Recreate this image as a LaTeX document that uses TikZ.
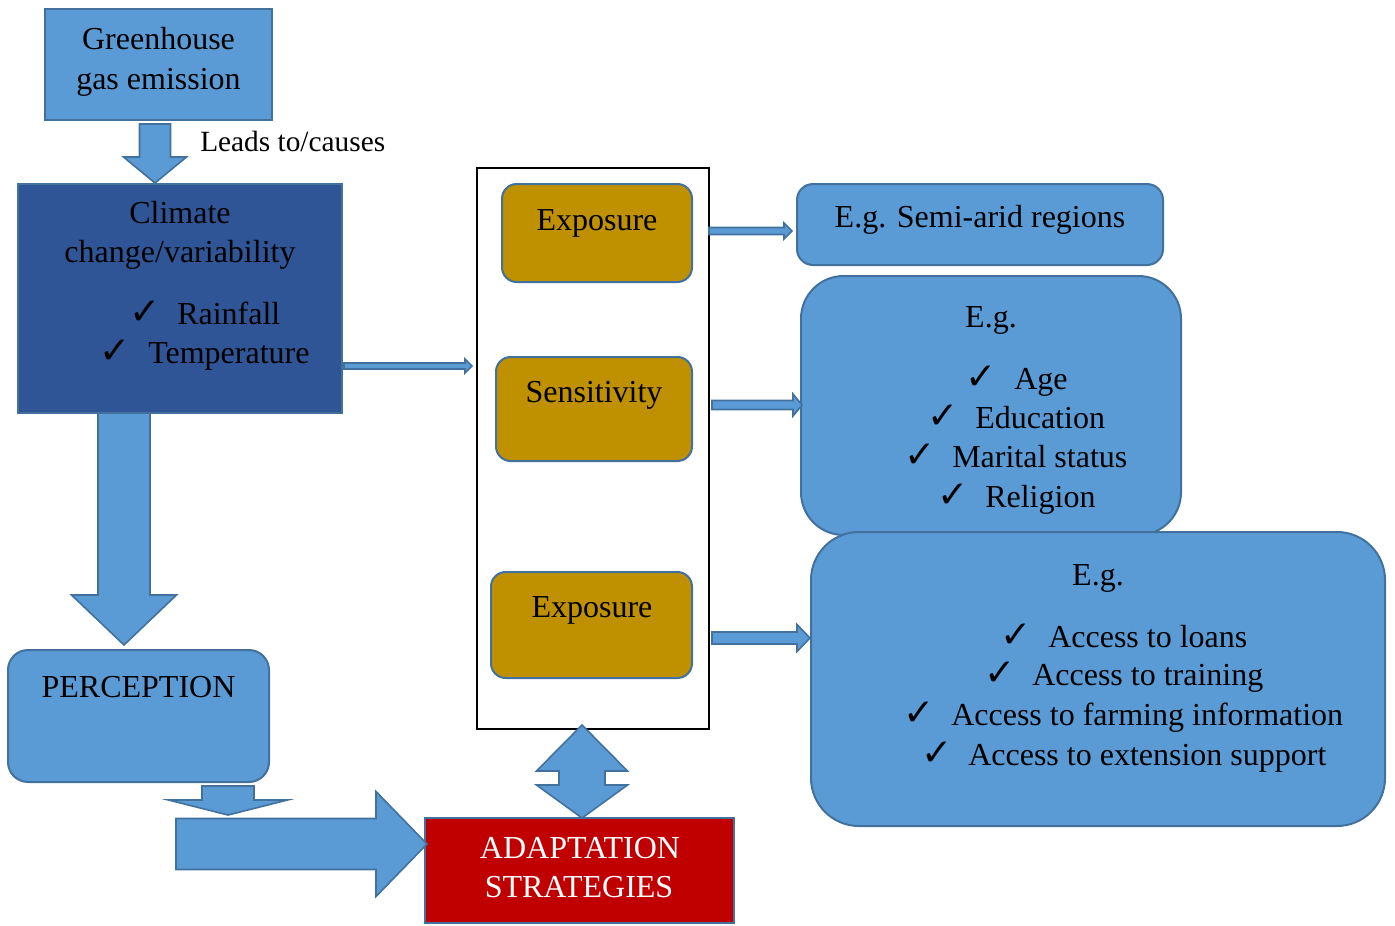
\documentclass[tikz,border=0pt]{standalone}
\usepackage{fontspec}
\setmainfont{Liberation Serif}
\newfontfamily\chkfont{DejaVu Sans}
\usetikzlibrary{fit,calc}
\definecolor{lblue}{HTML}{5B9BD5}
\definecolor{bord}{HTML}{41719C}
\definecolor{dblue}{HTML}{2F5597}
\definecolor{gold}{HTML}{BF9000}
\definecolor{dred}{HTML}{C00000}
\tikzset{
  shapebox/.style={inner sep=0pt, line width=1.5pt, draw=bord},
  lbox/.style={shapebox, fill=lblue},
  rlbox/.style={lbox, rounded corners=#1},
  gbox/.style={shapebox, fill=gold, rounded corners=11pt},
  txt/.style={inner sep=0pt, anchor=base, font=\fontsize{24}{29}\selectfont},
  ltxt/.style={txt, anchor=base west},
  chk/.style={inner sep=0pt, anchor=base west, font=\chkfont\fontsize{28}{30}\selectfont},
  barrow/.style={fill=lblue, draw=bord, line width=1.2pt, line join=miter},
}
\newcommand{\harr}[5]{\draw[barrow] ($(#1)+(0,-#3)$) -- ($(#2)+(-#5,-#3)$) -- ($(#2)+(-#5,-#4)$) -- (#2) -- ($(#2)+(-#5,#4)$) -- ($(#2)+(-#5,#3)$) -- ($(#1)+(0,#3)$) -- cycle;}
\newcommand{\varr}[5]{\draw[barrow] ($(#1)+(-#3,0)$) -- ($(#2)+(-#3,-#5)$) -- ($(#2)+(-#4,-#5)$) -- (#2) -- ($(#2)+(#4,-#5)$) -- ($(#2)+(#3,-#5)$) -- ($(#1)+(#3,0)$) -- cycle;}
\begin{document}
\begin{tikzpicture}[x=0.75pt,y=-0.75pt]
\useasboundingbox (0,0) rectangle (1395,925);
% boxes
\node[lbox, fit={(45,9)(272,120)}] (gh) {};
\node[shapebox, fill=dblue, fit={(18,184)(342,413)}] (cc) {};
\node[rlbox=15pt, fit={(8,650)(269,782)}] (perc) {};
\node[shapebox, fill=dred, fit={(425,818)(734,923)}] (adapt) {};
\node[draw=black, line width=1pt, fill=white, inner sep=0pt, fit={(477,168)(709,729)}] (outer) {};
\node[gbox, fit={(502,184)(692,282)}] (exp1) {};
\node[gbox, fit={(496,357)(692,461)}] (sens) {};
\node[gbox, fit={(491,572)(692,678)}] (exp2) {};
\node[rlbox=12pt, fit={(797,184)(1163,265)}] (eg1) {};
\node[rlbox=32pt, fit={(801,276)(1181,535)}] (eg2) {};
\node[rlbox=36pt, fit={(811,532)(1385,826)}] (eg3) {};
% texts
\node[txt] (t1) at (158.5,49) {Greenhouse};
\node[txt] (t2) at (158.5,89) {gas emission};
\node[ltxt, font=\fontsize{22}{26}\selectfont] (lead) at (200,151) {Leads to/causes};
\node[txt] (t3) at (180,223) {Climate};
\node[txt] (t4) at (180,262) {change/variability};
\node[chk] (c1) at (129,324) {✓};
\node[ltxt] (t5) at (177,324) {Rainfall};
\node[chk] (c2) at (99,363) {✓};
\node[ltxt] (t6) at (148,363) {Temperature};
\node[txt] (t7) at (597,230) {Exposure};
\node[txt] (t8) at (594,402) {Sensitivity};
\node[txt] (t9) at (592,617) {Exposure};
\node[txt] (t10) at (138.5,697) {PERCEPTION};
\node[txt, text=white] (t11) at (580,858) {ADAPTATION};
\node[txt, text=white] (t12) at (579,897) {STRATEGIES};
\node[txt] (t13) at (980,227) {E.g. Semi-arid regions};
\node[txt] (t14) at (991,327) {E.g.};
\node[chk] (c3) at (965,389) {✓};
\node[ltxt] (t15) at (1014,389) {Age};
\node[chk] (c4) at (927,428) {✓};
\node[ltxt] (t16) at (975,428) {Education};
\node[chk] (c5) at (904,467) {✓};
\node[ltxt] (t17) at (952,467) {Marital status};
\node[chk] (c6) at (937,507) {✓};
\node[ltxt] (t18) at (985,507) {Religion};
\node[txt] (t19) at (1098,585) {E.g.};
\node[chk] (c7) at (1000,647) {✓};
\node[ltxt] (t20) at (1048,647) {Access to loans};
\node[chk] (c8) at (984,685) {✓};
\node[ltxt] (t21) at (1032,685) {Access to training};
\node[chk] (c9) at (903,725) {✓};
\node[ltxt] (t22) at (951,725) {Access to farming information};
\node[chk] (c10) at (921,765) {✓};
\node[ltxt] (t23) at (968,765) {Access to extension support};
% connector end points
\coordinate (a1s) at (155,124);
\coordinate (a1e) at (155,183);
\coordinate (a2s) at (124,413);
\coordinate (a2e) at (124,645);
\coordinate (a3s) at (228,786);
\coordinate (a3e) at (228,815);
\coordinate (a4s) at (176,844);
\coordinate (a4e) at (427,844);
\coordinate (a5s) at (344,366);
\coordinate (a5e) at (472,366);
\coordinate (a6s) at (709,231);
\coordinate (a6e) at (792,231);
\coordinate (a7s) at (712,405);
\coordinate (a7e) at (802,405);
\coordinate (a8s) at (712,638);
\coordinate (a8e) at (810,638);
\coordinate (dt) at (582,725);
% block arrows
\varr{a1s}{a1e}{15.5}{31.5}{26}
\varr{a2s}{a2e}{26}{52.5}{50}
\varr{a3s}{a3e}{26}{59.5}{15}
\harr{a4s}{a4e}{25.5}{52.5}{51}
\harr{a5s}{a5e}{3}{7}{7}
\harr{a6s}{a6e}{3.5}{8}{8}
\harr{a7s}{a7e}{4.5}{11}{9}
\harr{a8s}{a8e}{6}{13.5}{13}
\draw[barrow] (dt) -- ++(45.5,46) -- ++(-22.5,0) -- ++(0,14) -- ++(22.5,0) -- ($(dt)+(0,93)$) -- ($(dt)+(-45.5,60)$) -- ++(22.5,0) -- ++(0,-14) -- ++(-22.5,0) -- cycle;
\end{tikzpicture}
\end{document}
